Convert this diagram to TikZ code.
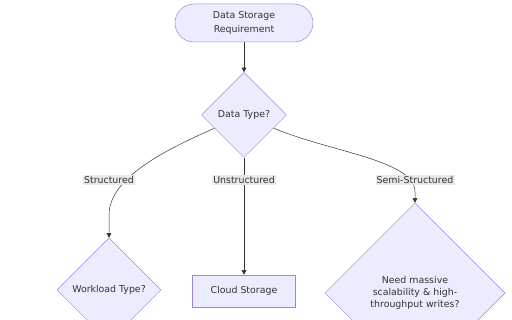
\documentclass[tikz,border=0pt]{standalone}
\usepackage{fontspec}
\setmainfont{DejaVu Sans}
\usetikzlibrary{shapes.geometric,arrows.meta}
\definecolor{nodefill}{HTML}{ECECFF}
\definecolor{nodeline}{HTML}{9F85E0}
\definecolor{txt}{HTML}{333333}
\definecolor{lblbg}{HTML}{E8E8E8}
\begin{document}
\begin{tikzpicture}[x=1pt,y=-1pt, font=\fontsize{9.4}{11.8}\selectfont, text=txt,
 base/.style={draw=nodeline, fill=nodefill, line width=0.5pt},
 stadium/.style={base, rounded corners=19pt, minimum width=138pt, minimum height=38pt, align=center, inner sep=0pt},
 decision/.style={base, diamond, inner sep=0pt, align=center},
 box/.style={base, rectangle, minimum width=103pt, minimum height=32pt, inner sep=0pt},
 conn/.style={draw=txt, line width=0.5pt, -{Triangle[length=4.5pt,width=4.5pt]}},
 edgelbl/.style={fill=lblbg, inner sep=1.2pt}]
\useasboundingbox (0,0) rectangle (512,320);
\node[stadium] (req) at (244,23) {Data Storage\\[2pt]Requirement};
\node[decision, minimum width=85pt, minimum height=85pt] (dt) at (244,115) {Data Type?};
\node[decision, minimum width=104pt, minimum height=104pt] (wl) at (109,290) {Workload Type?};
\node[box] (cs) at (244,291) {Cloud Storage};
\node[decision, minimum width=180pt, minimum height=180pt] (ss) at (415,293) {Need massive\\scalability \& high-\\throughput writes?};
\coordinate (ls) at (109,180);
\coordinate (lu) at (244,180);
\coordinate (lm) at (415,180);
\draw[conn] (req) -- (dt);
\draw[conn] (dt.204) .. controls (175,146) and (109,175) .. (109,215) -- (wl.north);
\draw[conn] (dt.south) -- (cs.north);
\draw[conn] (dt.336) .. controls (330,152) and (415,160) .. (415,192) -- (ss.north);
\node[edgelbl] (lbs) at (ls) {Structured};
\node[edgelbl] (lbu) at (lu) {Unstructured};
\node[edgelbl] (lbm) at (lm) {Semi-Structured};
\end{tikzpicture}
\end{document}
